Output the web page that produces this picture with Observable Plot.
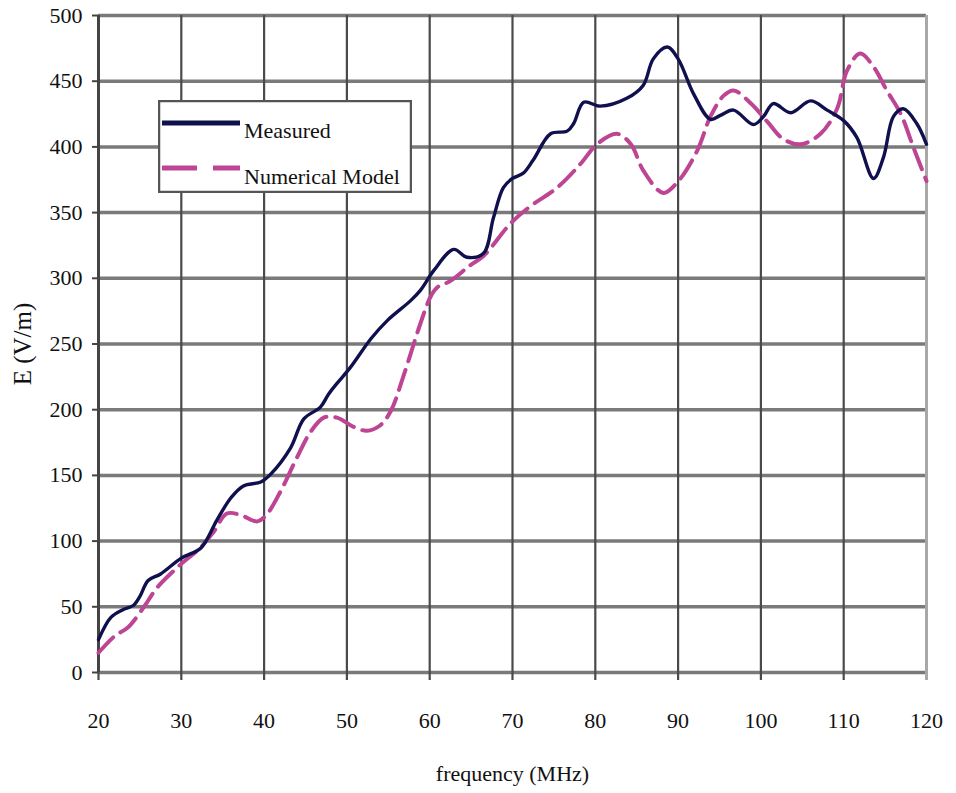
<!DOCTYPE html>
<html>
<head>
<meta charset="utf-8">
<script src="https://cdn.jsdelivr.net/npm/d3@7"></script>
<script src="https://cdn.jsdelivr.net/npm/@observablehq/plot@0.6"></script>
<style>
  html, body { margin: 0; padding: 0; background: #fff; }
  #wrap { position: relative; width: 956px; height: 793px; }
  #legend { position: absolute; left: 158px; top: 100px; }
</style>
</head>
<body>
<div id="wrap"></div>
<script>
// ---- data ----
const measuredFreq = [20, 21.5, 23, 24.2, 25, 26, 27.5, 30, 32.4, 34.3, 36, 37.5, 39.6, 40.8, 43.2, 44.8, 46.8, 47.8, 48.8, 50.4, 52.9, 54.9, 57.7, 58.9, 60.5, 62.9, 64.5, 66.5, 67.7, 68.9, 70, 71.3, 72.5, 74.6, 76.6, 77.4, 78.6, 80.6, 83.8, 85.8, 87, 88.7, 90, 91.9, 93.9, 95.1, 96.7, 99.1, 100.3, 101.5, 103.6, 106, 108, 110, 111.6, 113.6, 114.8, 116, 117.2, 118.8, 120];
const measuredE = [25, 42, 48, 51, 58, 70, 75, 87, 95, 116, 133, 142, 145, 151, 171, 193, 202, 212, 220, 232, 254, 268, 283, 291, 306, 322, 316, 319, 346, 369, 376, 380, 390, 410, 412, 418, 434, 431, 437, 447, 467, 476, 467, 440, 421, 424, 428, 417, 423, 433, 426, 435, 428, 420, 407, 376, 392, 423, 429, 418, 402];

const modelFreq = [20, 22, 23.5, 25.5, 27, 29.7, 32.3, 33.9, 35.5, 37.1, 39.2, 40.4, 42, 44, 45.6, 47.2, 48.8, 50.8, 52.4, 54, 55.3, 56.8, 58.9, 60.1, 60.9, 62.5, 64.9, 66.5, 69.8, 72.2, 75.4, 78.2, 80.2, 82.6, 84.3, 85.8, 88.2, 89.9, 92.3, 93.9, 95.5, 96.7, 98.8, 100.8, 102.7, 104.8, 107.2, 109.2, 110.4, 112, 113.6, 115.2, 116.9, 118.4, 120];
const modelE = [15, 28, 34, 50, 64, 81, 95, 107, 121, 120, 115, 121, 138, 164, 183, 194, 194, 187, 184, 188, 199, 225, 266, 286, 293, 298, 310, 317, 342, 355, 369, 387, 402, 410, 402, 382, 365, 373, 397, 423, 439, 443, 433, 419, 406, 402, 410, 429, 458, 471, 461, 443, 425, 400, 374];

const xTicks = [20, 30, 40, 50, 60, 70, 80, 90, 100, 110, 120];
const yTicks = [0, 50, 100, 150, 200, 250, 300, 350, 400, 450, 500];
const seriesNames = ["Measured", "Numerical Model"];
const xLabel = "frequency (MHz)";
const yLabel = "E (V/m)";

const measured = measuredFreq.map((f, i) => ({f, e: measuredE[i]}));
const model = modelFreq.map((f, i) => ({f, e: modelE[i]}));

const navy = "#10104e";
const pink = "#bd4594";
const font = "'Liberation Serif', 'Times New Roman', serif";

const chart = Plot.plot({
  width: 956,
  height: 793,
  marginTop: 15,
  marginRight: 30,
  marginBottom: 121,
  marginLeft: 98,
  style: { fontFamily: font, fontSize: "22px", color: "#111", background: "#fff" },
  x: { domain: [20, 120] },
  y: { domain: [0, 500] },
  marks: [
    // horizontal grid
    Plot.ruleY(yTicks, { stroke: "#7a7a7a", strokeWidth: 3.5 }),
    // vertical grid (extend slightly below 0 as tick marks)
    Plot.ruleX(xTicks.filter(d => d < 120), { y1: -6, y2: 500, stroke: "#4a4a4a", strokeWidth: 2.2 }),
    Plot.ruleX([120], { y1: -6, y2: 500, stroke: "#a8a8a8", strokeWidth: 3 }),
    // left axis line and ticks
    Plot.ruleX([20], { y1: 0, y2: 500, stroke: "#444", strokeWidth: 3 }),
    Plot.axisY(yTicks, { tickSize: 6, tickPadding: 10, stroke: "#444", strokeWidth: 2, fill: "#111", label: null }),
    Plot.axisX(xTicks, { tickSize: 0, tickPadding: 40, fill: "#111", label: null }),
    // series
    Plot.line(model, { x: "f", y: "e", stroke: pink, strokeWidth: 4, strokeDasharray: "21,9", curve: "catmull-rom" }),
    Plot.line(measured, { x: "f", y: "e", stroke: navy, strokeWidth: 3.4, curve: "catmull-rom" }),
    // axis titles
    Plot.text([xLabel], { frameAnchor: "bottom", dy: 108, fill: "#111", fontSize: 22 }),
    Plot.text([yLabel], { frameAnchor: "left", textAnchor: "middle", dx: -76, rotate: -90, fill: "#111", fontSize: 25 })
  ]
});

const wrap = document.getElementById("wrap");
wrap.appendChild(chart);

// legend box (HTML overlay)
const legend = document.createElement("div");
legend.id = "legend";
legend.innerHTML = `
<svg width="254" height="93" xmlns="http://www.w3.org/2000/svg" style="font-family:${font};font-size:22px">
  <rect x="1" y="1" width="252" height="91" fill="#fff" stroke="#555" stroke-width="2.5"/>
  <line x1="4" x2="82" y1="23" y2="23" stroke="${navy}" stroke-width="5"/>
  <text x="86" y="38" fill="#111">${seriesNames[0]}</text>
  <line x1="4" x2="82" y1="68" y2="68" stroke="${pink}" stroke-width="5" stroke-dasharray="35,16"/>
  <text x="86" y="84" fill="#111">${seriesNames[1]}</text>
</svg>`;
wrap.appendChild(legend);
</script>
</body>
</html>
